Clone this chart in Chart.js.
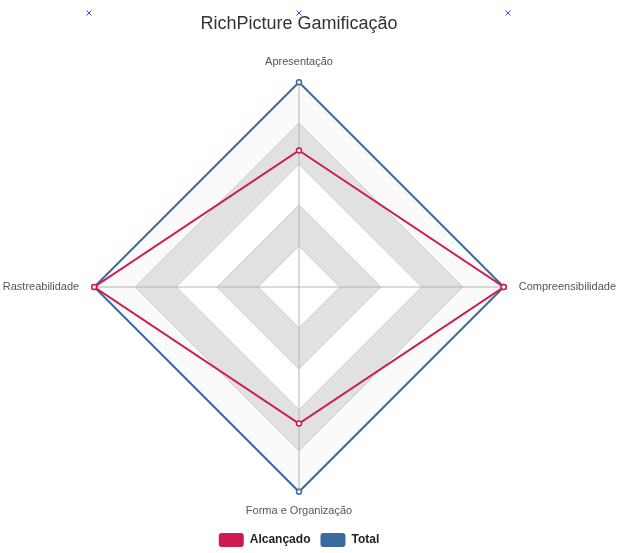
<!DOCTYPE html>
<html>
<head>
<meta charset="utf-8">
<script src="https://cdn.jsdelivr.net/npm/chart.js@4.4.1/dist/chart.umd.min.js"></script>
<style>
  html, body { margin: 0; padding: 0; background: #fff; overflow: hidden; }
  #wrap { width: 634px; height: 553px; margin-left: -7px; }
</style>
</head>
<body>
<div id="wrap"><canvas id="radarChart"></canvas></div>
<script>
// données
const categorias = ['Apresentação', 'Compreensibilidade', 'Forma e Organização', 'Rastreabilidade'];
const alcancado = [10, 15, 10, 15];
const total = [15, 15, 15, 15];
const escalaMax = 15;
const escalaPasso = 3;

// espace entre le radar et chaque libellé (haut, droite, bas, gauche)
const labelPadding = [14, 15, 13, 15];

// bandes alternées derrière la grille
const bandsPlugin = {
  id: 'bands',
  beforeDraw(chart) {
    const scale = chart.scales.r;
    const ctx = chart.ctx;
    const n = categorias.length;
    const colors = ['#ffffff', '#e1e1e1', '#ffffff', '#e1e1e1', '#fafafa'];
    for (let k = colors.length - 1; k >= 0; k--) {
      const v = (k + 1) * escalaPasso;
      ctx.save();
      ctx.beginPath();
      for (let i = 0; i < n; i++) {
        const p = scale.getPointPositionForValue(i, v);
        if (i === 0) ctx.moveTo(p.x, p.y); else ctx.lineTo(p.x, p.y);
      }
      ctx.closePath();
      ctx.fillStyle = colors[k];
      ctx.fill();
      ctx.restore();
    }
  }
};

// centrer titre et légende sur le radar
const centerPlugin = {
  id: 'centerOnRadar',
  afterLayout(chart) {
    const cx = chart.scales.r.xCenter;
    [chart.titleBlock, chart.legend].forEach(box => {
      if (!box) return;
      const dx = cx - (box.left + box.right) / 2;
      box.left += dx;
      box.right += dx;
    });
  }
};

// petites croix bleues en haut
const crossPlugin = {
  id: 'crosses',
  afterDraw(chart) {
    const ctx = chart.ctx;
    const cx = chart.scales.r.xCenter;
    const xs = [cx - 210, cx, cx + 209];
    ctx.save();
    ctx.strokeStyle = '#4a4ae0';
    ctx.lineWidth = 1;
    xs.forEach(x => {
      ctx.beginPath();
      ctx.moveTo(x - 2.5, 10.5); ctx.lineTo(x + 2.5, 15.5);
      ctx.moveTo(x + 2.5, 10.5); ctx.lineTo(x - 2.5, 15.5);
      ctx.stroke();
    });
    ctx.restore();
  }
};

new Chart(document.getElementById('radarChart'), {
  type: 'radar',
  data: {
    labels: categorias,
    datasets: [
      {
        label: 'Alcançado',
        data: alcancado,
        borderColor: '#cc1a52',
        backgroundColor: '#cc1a52',
        borderWidth: 2,
        fill: false,
        pointRadius: 2.5,
        pointBorderWidth: 1.5,
        pointBackgroundColor: '#ffffff',
        pointBorderColor: '#cc1a52'
      },
      {
        label: 'Total',
        data: total,
        borderColor: '#3a6b9e',
        backgroundColor: '#3a6b9e',
        borderWidth: 2,
        fill: false,
        pointRadius: 2.5,
        pointBorderWidth: 1.5,
        pointBackgroundColor: '#ffffff',
        pointBorderColor: '#3a6b9e'
      }
    ]
  },
  plugins: [bandsPlugin, centerPlugin, crossPlugin],
  options: {
    responsive: true,
    maintainAspectRatio: false,
    animation: false,
    layout: { padding: { top: 0, bottom: -4, left: 0, right: 0 } },
    plugins: {
      title: {
        display: true,
        text: 'RichPicture Gamificação',
        color: '#333',
        font: { family: 'Liberation Sans', size: 18, weight: 'normal' },
        padding: { top: 13, bottom: 17 }
      },
      legend: {
        position: 'bottom',
        labels: {
          color: '#222',
          font: { family: 'Liberation Sans', size: 12, weight: 'bold' },
          boxWidth: 25,
          boxHeight: 14,
          useBorderRadius: true,
          borderRadius: 3,
          padding: 10,
          generateLabels: chart =>
            Chart.defaults.plugins.legend.labels.generateLabels(chart).map(l => ({ ...l, lineWidth: 0 }))
        }
      },
      tooltip: { enabled: false }
    },
    scales: {
      r: {
        min: 0,
        max: escalaMax,
        ticks: { display: false, stepSize: escalaPasso },
        grid: { color: '#cccccc', lineWidth: 1 },
        angleLines: { color: '#b4b4b4', lineWidth: 1 },
        pointLabels: {
          color: '#555',
          font: { family: 'Liberation Sans', size: 11 },
          padding: ctx => labelPadding[ctx.index]
        }
      }
    }
  }
});
</script>
</body>
</html>
